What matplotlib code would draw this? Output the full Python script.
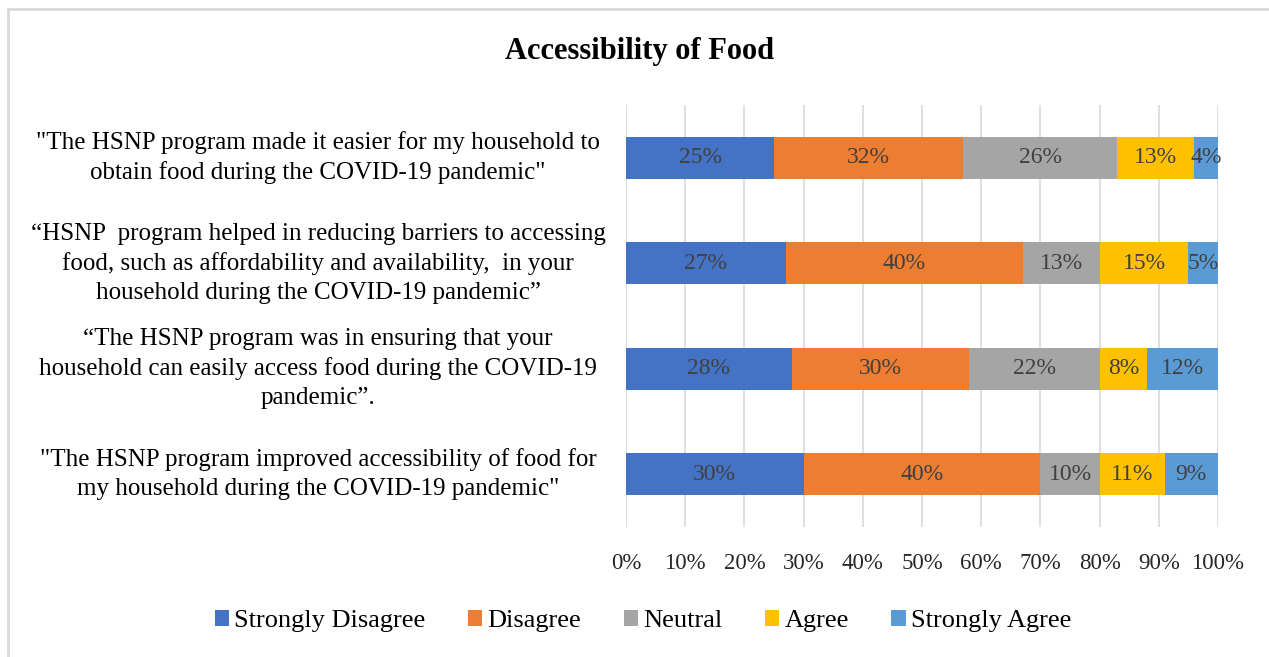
import matplotlib
matplotlib.use("Agg")
import matplotlib.pyplot as plt
import numpy as np
from matplotlib.lines import Line2D

plt.rcParams['font.family'] = ['Liberation Serif', 'DejaVu Serif']

statements = [
    '"The HSNP program made it easier for my household to\nobtain food during the COVID-19 pandemic"',
    '\u201cHSNP  program helped in reducing barriers to accessing\nfood, such as affordability and availability,  in your\nhousehold during the COVID-19 pandemic\u201d',
    '\u201cThe HSNP program was in ensuring that your\nhousehold can easily access food during the COVID-19\npandemic\u201d.',
    '"The HSNP program improved accessibility of food for\nmy household during the COVID-19 pandemic"',
]
responses = ['Strongly Disagree', 'Disagree', 'Neutral', 'Agree', 'Strongly Agree']
colors = ['#4472C4', '#ED7D31', '#A5A5A5', '#FFC000', '#5B9BD5']

strongly_disagree = [25, 27, 28, 30]
disagree = [32, 40, 30, 40]
neutral = [26, 13, 22, 10]
agree = [13, 15, 8, 11]
strongly_agree = [4, 5, 12, 9]
series = [strongly_disagree, disagree, neutral, agree, strongly_agree]

fig = plt.figure(figsize=(12.69, 6.57), dpi=100)
ax = fig.add_axes([626 / 1269, 1 - 527 / 657, 592 / 1269, 422 / 657])

ypos = np.arange(len(statements))[::-1]
left = np.zeros(len(statements))
for name, vals, col in zip(responses, series, colors):
    vals = np.array(vals, dtype=float)
    ax.barh(ypos, vals, left=left, height=0.4, color=col, label=name, zorder=3)
    for y, l, v in zip(ypos, left, vals):
        ax.text(l + v / 2, y, f'{int(v)}%', ha='center', va='center',
                fontsize=17, color='#404040', zorder=4)
    left += vals

ax.set_xlim(0, 100)
ax.set_ylim(-0.5, 3.5)
ax.set_xticks(np.arange(0, 101, 10))
ax.set_xticklabels([f'{t}%' for t in range(0, 101, 10)], fontsize=16.5, color='#262626')
ax.tick_params(axis='x', length=0, pad=19)
ax.set_yticks([])
ax.grid(axis='x', color='#D9D9D9', linewidth=1.2, zorder=0)
for s in ax.spines.values():
    s.set_visible(False)

for y, txt in zip(ypos, statements):
    ax.text(-0.52, y, txt, transform=ax.get_yaxis_transform(), ha='center',
            va='center', fontsize=18, color='#000000', linespacing=1.4)

fig.text(640 / 1269, 1 - 52 / 657, 'Accessibility of Food', ha='center',
         va='center', fontsize=22, fontweight='bold')

fig.legend(loc='center', bbox_to_anchor=(643 / 1269, 1 - 621 / 657), ncol=5,
           frameon=False, fontsize=19, handlelength=0.55, handleheight=0.55,
           handletextpad=0.2, columnspacing=1.6)

fig.add_artist(Line2D([8 / 1269, 8 / 1269], [0, 1 - 9 / 657], transform=fig.transFigure,
                      color='#D9D9D9', linewidth=2))
fig.add_artist(Line2D([8 / 1269, 1], [1 - 9 / 657, 1 - 9 / 657], transform=fig.transFigure,
                      color='#D9D9D9', linewidth=2))

fig.savefig('out.png', dpi=100)
